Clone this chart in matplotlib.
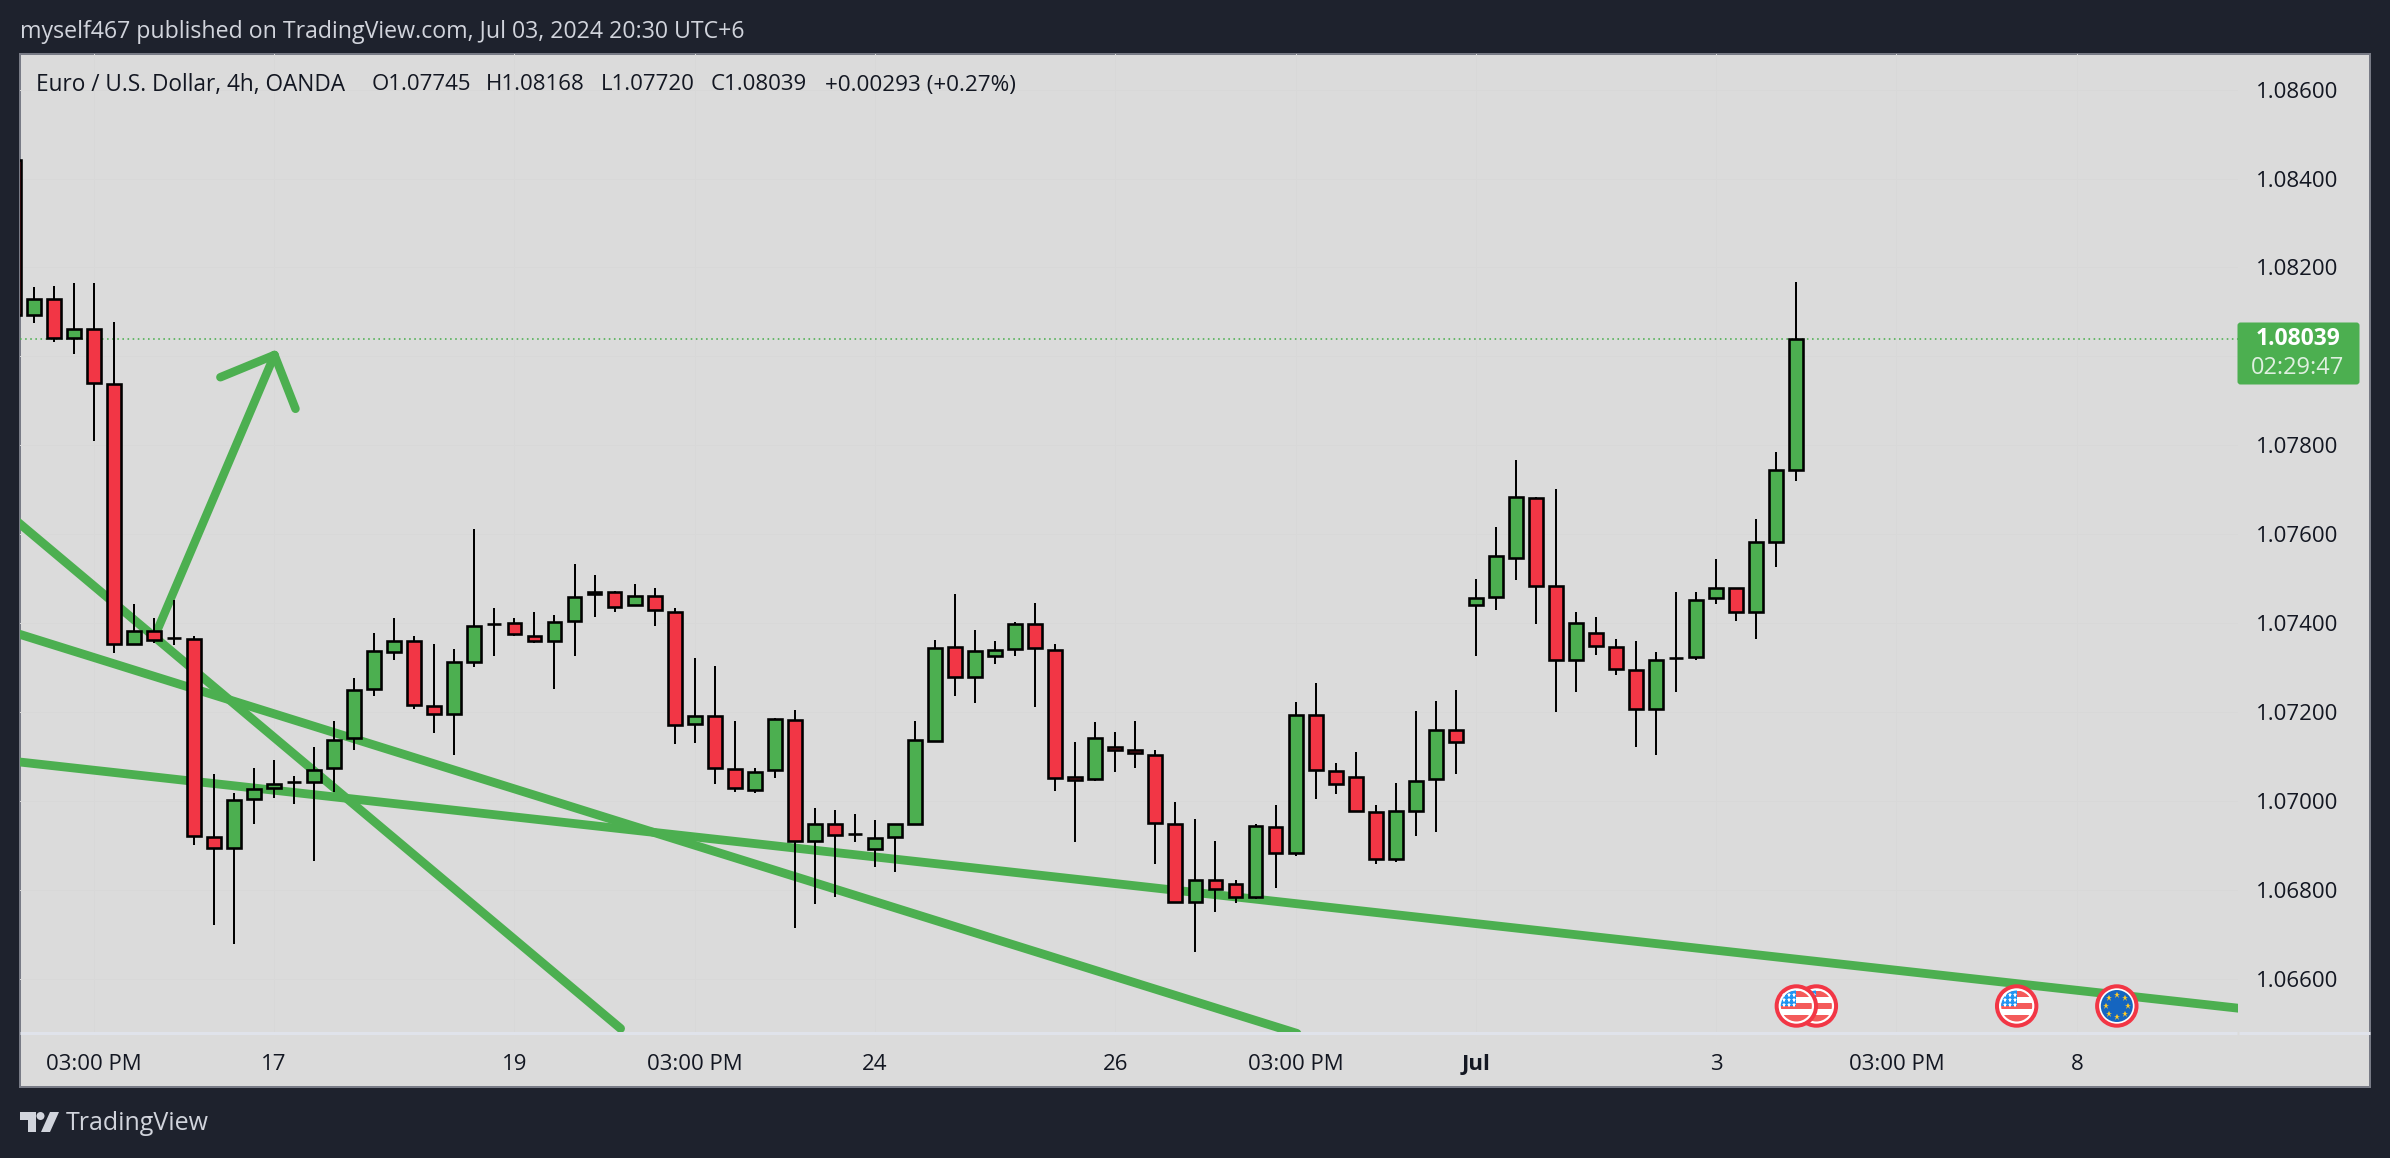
import numpy as np
import matplotlib
matplotlib.use("Agg")
import matplotlib.pyplot as plt
from matplotlib.patches import Rectangle, Circle, Polygon, FancyBboxPatch

# ---------- data ----------
indices = list(range(-1, 89))
opens = [1.08442,1.08093,1.08129,1.08042,1.08061,1.07938,1.07352,1.07382,1.07367,1.07364,
         1.06919,1.06893,1.07004,1.07029,1.07043,1.07043,1.07074,1.07141,1.07252,1.07336,
         1.07360,1.07214,1.07195,1.07312,1.07397,1.07400,1.07372,1.07360,1.07405,1.07465,
         1.07469,1.07441,1.07460,1.07424,1.07173,1.07190,1.07071,1.07025,1.07070,1.07182,
         1.06909,1.06949,1.06925,1.06891,1.06918,1.06948,1.07135,1.07347,1.07279,1.07326,
         1.07342,1.07397,1.07340,1.07053,1.07049,1.07121,1.07114,1.07104,1.06947,1.06773,
         1.06821,1.06813,1.06784,1.06941,1.06883,1.07193,1.07067,1.07054,1.06975,1.06869,
         1.06977,1.07049,1.07160,1.07440,1.07458,1.07546,1.07682,1.07483,1.07317,1.07377,
         1.07346,1.07294,1.07206,1.07321,1.07323,1.07456,1.07478,1.07425,1.07583,1.07745]
highs = [1.08450,1.08155,1.08159,1.08164,1.08164,1.08078,1.07442,1.07411,1.07451,1.07371,
         1.07060,1.07018,1.07075,1.07093,1.07056,1.07122,1.07179,1.07277,1.07378,1.07411,
         1.07370,1.07353,1.07342,1.07612,1.07435,1.07412,1.07424,1.07419,1.07533,1.07509,
         1.07473,1.07487,1.07480,1.07435,1.07322,1.07304,1.07179,1.07075,1.07187,1.07205,
         1.06983,1.06979,1.06970,1.06956,1.06947,1.07179,1.07361,1.07465,1.07384,1.07359,
         1.07402,1.07445,1.07352,1.07132,1.07177,1.07154,1.07179,1.07114,1.06997,1.06959,
         1.06909,1.06821,1.06947,1.06990,1.07222,1.07265,1.07085,1.07109,1.06990,1.07040,
         1.07202,1.07224,1.07249,1.07499,1.07616,1.07766,1.07684,1.07701,1.07426,1.07413,
         1.07365,1.07359,1.07335,1.07469,1.07471,1.07545,1.07478,1.07635,1.07784,1.08168]
lows = [1.08090,1.08076,1.08033,1.08006,1.07809,1.07332,1.07352,1.07355,1.07351,1.06900,
        1.06720,1.06677,1.06947,1.07007,1.06992,1.06865,1.07019,1.07115,1.07235,1.07317,
        1.07206,1.07152,1.07103,1.07302,1.07325,1.07370,1.07355,1.07251,1.07327,1.07413,
        1.07426,1.07441,1.07393,1.07127,1.07131,1.07037,1.07021,1.07017,1.07052,1.06713,
        1.06767,1.06783,1.06908,1.06852,1.06839,1.06948,1.07135,1.07235,1.07221,1.07309,
        1.07325,1.07212,1.07023,1.06908,1.07045,1.07064,1.07075,1.06857,1.06773,1.06661,
        1.06751,1.06771,1.06780,1.06805,1.06875,1.07005,1.07016,1.06977,1.06857,1.06863,
        1.06922,1.06929,1.07061,1.07327,1.07430,1.07497,1.07399,1.07199,1.07244,1.07329,
        1.07284,1.07122,1.07103,1.07244,1.07317,1.07444,1.07405,1.07365,1.07527,1.07720]
closes = [1.08093,1.08129,1.08042,1.08061,1.07941,1.07352,1.07382,1.07363,1.07367,1.06920,
          1.06893,1.07002,1.07026,1.07037,1.07043,1.07069,1.07137,1.07250,1.07337,1.07360,
          1.07216,1.07195,1.07312,1.07393,1.07397,1.07375,1.07360,1.07402,1.07458,1.07470,
          1.07437,1.07460,1.07430,1.07171,1.07190,1.07073,1.07028,1.07064,1.07184,1.06910,
          1.06947,1.06923,1.06925,1.06917,1.06947,1.07136,1.07345,1.07279,1.07338,1.07340,
          1.07397,1.07344,1.07052,1.07046,1.07142,1.07115,1.07107,1.06950,1.06773,1.06821,
          1.06802,1.06784,1.06944,1.06883,1.07193,1.07070,1.07037,1.06977,1.06869,1.06977,
          1.07045,1.07160,1.07132,1.07457,1.07550,1.07684,1.07483,1.07316,1.07400,1.07348,
          1.07297,1.07206,1.07317,1.07321,1.07451,1.07478,1.07425,1.07583,1.07744,1.08039]

last_price = 1.08039
price_ticks = [1.06600,1.06800,1.07000,1.07200,1.07400,1.07600,1.07800,1.08000,1.08200,1.08400,1.08600]
price_tick_labels = ["1.06600","1.06800","1.07000","1.07200","1.07400","1.07600","1.07800","","1.08200","1.08400","1.08600"]
time_ticks = [3,12,24,33,42,54,63,72,84,93,102]
time_tick_labels = ["03:00 PM","17","19","03:00 PM","24","26","03:00 PM","Jul","3","03:00 PM","8"]

trend1_x, trend1_y = [-1,29.3], [1.07635,1.06488]
trend2_x, trend2_y = [-1,63.07], [1.07379,1.06477]
trend3_x, trend3_y = [-1,111], [1.07089,1.06529]
arrow_x, arrow_y = [6.2,12.02], [1.07387,1.08003]
arrow_headl_x, arrow_headl_y = [9.32,12.02], [1.07953,1.08003]
arrow_headr_x, arrow_headr_y = [13.07,12.02], [1.07882,1.08003]

event_idx = [89,88,99,104]
event_kind = ["us","us","us","eu"]

# ---------- style ----------
GREEN, RED = "#4CAF50", "#F23645"
PAGE, PANEL, INK, PALE = "#1E222D", "#DBDBDB", "#131722", "#D1D4DC"
FONT = "Open Sans"
W, H = 2390, 1158
plt.rcParams["font.family"] = [FONT, "DejaVu Sans"]
px = 72/100

fig = plt.figure(figsize=(W/100, H/100), dpi=100, facecolor=PAGE)

# full-figure pixel layers
bg = fig.add_axes([0,0,1,1], zorder=0); bg.set_xlim(0,W); bg.set_ylim(H,0); bg.axis("off")
top = fig.add_axes([0,0,1,1], zorder=5); top.set_xlim(0,W); top.set_ylim(H,0); top.axis("off"); top.patch.set_alpha(0)

bg.add_patch(Rectangle((20,54),2350,1033,fc=PANEL,ec="#787B86",lw=2*px))
bg.plot([20,2237],[1033,1033],color="#E0E3EB",lw=3*px,solid_capstyle="butt")
bg.plot([2239,2370],[1033,1033],color="#E0E3EB",lw=3*px,solid_capstyle="butt")

# price chart
L, R, T, B = 20, 2238, 54, 1032
ax = fig.add_axes([L/W, 1-B/H, (R-L)/W, (B-T)/H], zorder=2)
ax.patch.set_alpha(0)
for s in ax.spines.values(): s.set_visible(False)
ax.set_xlim((L-33.7)/20.03, (R-33.7)/20.03)
p_of_y = lambda y: last_price + (339-y)/44456
ax.set_ylim(p_of_y(B), p_of_y(T))

ax.set_xticks(time_ticks); ax.set_xticklabels(time_tick_labels)
ax.set_yticks(price_ticks); ax.set_yticklabels(price_tick_labels)
ax.yaxis.tick_right()
ax.tick_params(axis="x", length=0, pad=16, labelsize=16, labelcolor=INK)
ax.tick_params(axis="y", length=0, pad=13, labelsize=16, labelcolor=INK)
for t, s in zip(ax.get_xticklabels(), time_tick_labels):
    if s == "Jul": t.set_fontweight("bold")
ax.grid(True, color="#D8D8D8", lw=1*px, zorder=0)
ax.set_axisbelow(True)

for xs, ys in [(trend1_x,trend1_y),(trend2_x,trend2_y),(trend3_x,trend3_y)]:
    ax.plot(xs, ys, color=GREEN, lw=8.8*px, solid_capstyle="round", zorder=2)
for xs, ys in [(arrow_x,arrow_y),(arrow_headl_x,arrow_headl_y),(arrow_headr_x,arrow_headr_y)]:
    ax.plot(xs, ys, color=GREEN, lw=8.5*px, solid_capstyle="round", zorder=2)
ax.axhline(last_price, color=GREEN, lw=1.6*px, ls=(0,(1,2.2)), zorder=1.5)

idx = np.array(indices); o = np.array(opens); c = np.array(closes)
ax.vlines(idx, lows, highs, color="black", lw=2*px, zorder=3)
colors = [GREEN if cc >= oo else RED for oo, cc in zip(o, c)]
ax.bar(idx, c-o, bottom=o, width=0.69, color=colors, edgecolor="black", linewidth=2.6*px, zorder=4)

# header and legend
top.text(20,32,"myself467 published on TradingView.com, Jul 03, 2024 20:30 UTC+6",color=PALE,fontsize=16.7,va="center")
for x, s, fs in [(36,"Euro / U.S. Dollar, 4h, OANDA",16.3),(372,"O1.07745",16),(486,"H1.08168",16),(601,"L1.07720",16),(711,"C1.08039",16),(825,"+0.00293 (+0.27%)",16.2)]:
    top.text(x,85,s,color=INK,fontsize=fs,va="center")

# last price tag
top.add_patch(FancyBboxPatch((2239,324),119,59,boxstyle="round,pad=1.5,rounding_size=3",fc=GREEN,ec="none"))
top.text(2298,339,"1.08039",color="white",fontsize=16.5,ha="center",va="center",fontweight="bold")
top.text(2298,368,"02:29:47",color="#DFF0E0",fontsize=17,ha="center",va="center")

# logo
logo = "#D1D4DC"
top.add_patch(Polygon([(20,1112),(36,1112),(36,1132),(28,1132),(28,1120),(20,1120)],fc=logo,ec="none"))
top.add_patch(Circle((40.5,1116),4,fc=logo,ec="none"))
top.add_patch(Polygon([(50,1112),(59,1112),(50,1132),(41,1132)],fc=logo,ec="none"))
top.text(66,1123,"TradingView",color=logo,fontsize=18,va="center")

def icon(x, y, kind, z):
    top.add_patch(Circle((x,y),19.7,fc="white",ec=RED,lw=4*px,zorder=z))
    clip = Circle((x,y),15.5,transform=top.transData)
    if kind == "us":
        for y0,h in [(y-15.5,6),(y-3.5,6),(y+8.5,8)]:
            r = Rectangle((x-16,y0),32,h,fc="#F45A5A",ec="none",zorder=z+.1); top.add_patch(r); r.set_clip_path(clip)
        r = Rectangle((x-16,y-16),16,16,fc="#2196F3",ec="none",zorder=z+.2); top.add_patch(r); r.set_clip_path(clip)
        for dx in (-12,-7,-2):
            for dy in (-11,-6,-1.5):
                top.plot(x+dx,y+dy,marker="*",ms=3.6,color="white",mew=0,zorder=z+.3)
    else:
        top.add_patch(Circle((x,y),16,fc="#1565C0",ec="none",zorder=z+.1))
        for a in np.arange(8)*np.pi/4:
            top.plot(x+11*np.cos(a),y+11*np.sin(a),marker="*",ms=5,color="#FFCA28",mew=0,zorder=z+.3)

x0, x1 = ax.get_xlim()
to_px = lambda i: L + (i-x0)/(x1-x0)*(R-L)
for n,(i,k) in enumerate(zip(event_idx,event_kind)):
    icon(to_px(i), 1006, k, 10+n)

fig.savefig("out.png", dpi=100, facecolor=PAGE)
